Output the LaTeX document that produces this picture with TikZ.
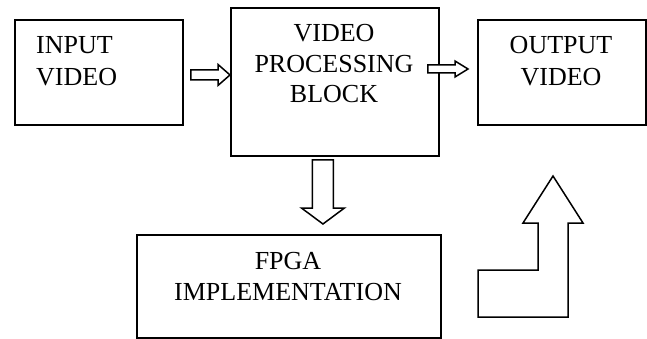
\documentclass[tikz,border=0pt]{standalone}
\usepackage{fontspec}
\setmainfont{Liberation Serif}
\usetikzlibrary{calc}
\tikzset{
  blockbox/.style={draw=black, line width=1.9pt, rectangle, inner sep=0pt, anchor=north west},
  blocktext/.style={font=\fontsize{26}{31}\selectfont, inner sep=0pt, anchor=base},
  arrowline/.style={draw=black, line width=1.5pt, line join=miter, fill=white},
}
% hollow block arrow pointing right: start, tip, shaft half-height, head half-height, head length
\newcommand{\rightblock}[5]{%
  \draw[arrowline] let \p1=(#1), \p2=(#2) in
    (\x1,\y1+#3) -- (\x2-#5,\y1+#3) -- (\x2-#5,\y1+#4) -- (\x2,\y1)
    -- (\x2-#5,\y1-#4) -- (\x2-#5,\y1-#3) -- (\x1,\y1-#3) -- cycle;}
% hollow block arrow pointing down
\newcommand{\downblock}[5]{%
  \draw[arrowline] let \p1=(#1), \p2=(#2) in
    (\x1-#3,\y1) -- (\x1-#3,\y2+#5) -- (\x1-#4,\y2+#5) -- (\x1,\y2)
    -- (\x1+#4,\y2+#5) -- (\x1+#3,\y2+#5) -- (\x1+#3,\y1) -- cycle;}
\begin{document}
\begin{tikzpicture}[x=1pt,y=-1pt]
\useasboundingbox (0,0) rectangle (647,339);

% blocks
\node[blockbox, minimum width=168pt, minimum height=105pt] (in) at (14,19) {};
\node[blockbox, minimum width=208pt, minimum height=148pt] (proc) at (230,7) {};
\node[blockbox, minimum width=168pt, minimum height=105pt] (out) at (477,19) {};
\node[blockbox, minimum width=304pt, minimum height=103pt] (fpga) at (136,234) {};

% labels
\node[blocktext, anchor=base west] (inA) at (36,54) {INPUT};
\node[blocktext, anchor=base west] (inB) at (36,86) {VIDEO};
\node[blocktext] (procA) at (334,42) {VIDEO};
\node[blocktext] (procB) at (334,73) {PROCESSING};
\node[blocktext] (procC) at (334,103) {BLOCK};
\node[blocktext] (outA) at (561,54) {OUTPUT};
\node[blocktext] (outB) at (561,86) {VIDEO};
\node[blocktext] (fpgaA) at (288,269) {FPGA};
\node[blocktext] (fpgaB) at (288,300) {IMPLEMENTATION};

% connectors between blocks
\coordinate (a1s) at ($(in.east)+(7,2.5)$);
\coordinate (a1e) at ($(proc.west |- a1s)$);
\rightblock{a1s}{a1e}{5}{10.5}{12}

\coordinate (a2s) at ($(proc.east |- 0,69)+(-12,0)$);
\coordinate (a2e) at ($(out.west |- a2s)+(-9,0)$);
\rightblock{a2s}{a2e}{4}{8}{13}

\coordinate (a3s) at ($(proc.south)+(-12,3)$);
\coordinate (a3e) at ($(fpga.north)+(34,-10)$);
\downblock{a3s}{a3e}{10.5}{21.5}{16}

% bent return arrow
\draw[arrowline] (553,176) -- (583,223) -- (568,223) -- (568,317) -- (478,317)
  -- (478,270) -- (538,270) -- (538,223) -- (523,223) -- cycle;
\end{tikzpicture}
\end{document}
